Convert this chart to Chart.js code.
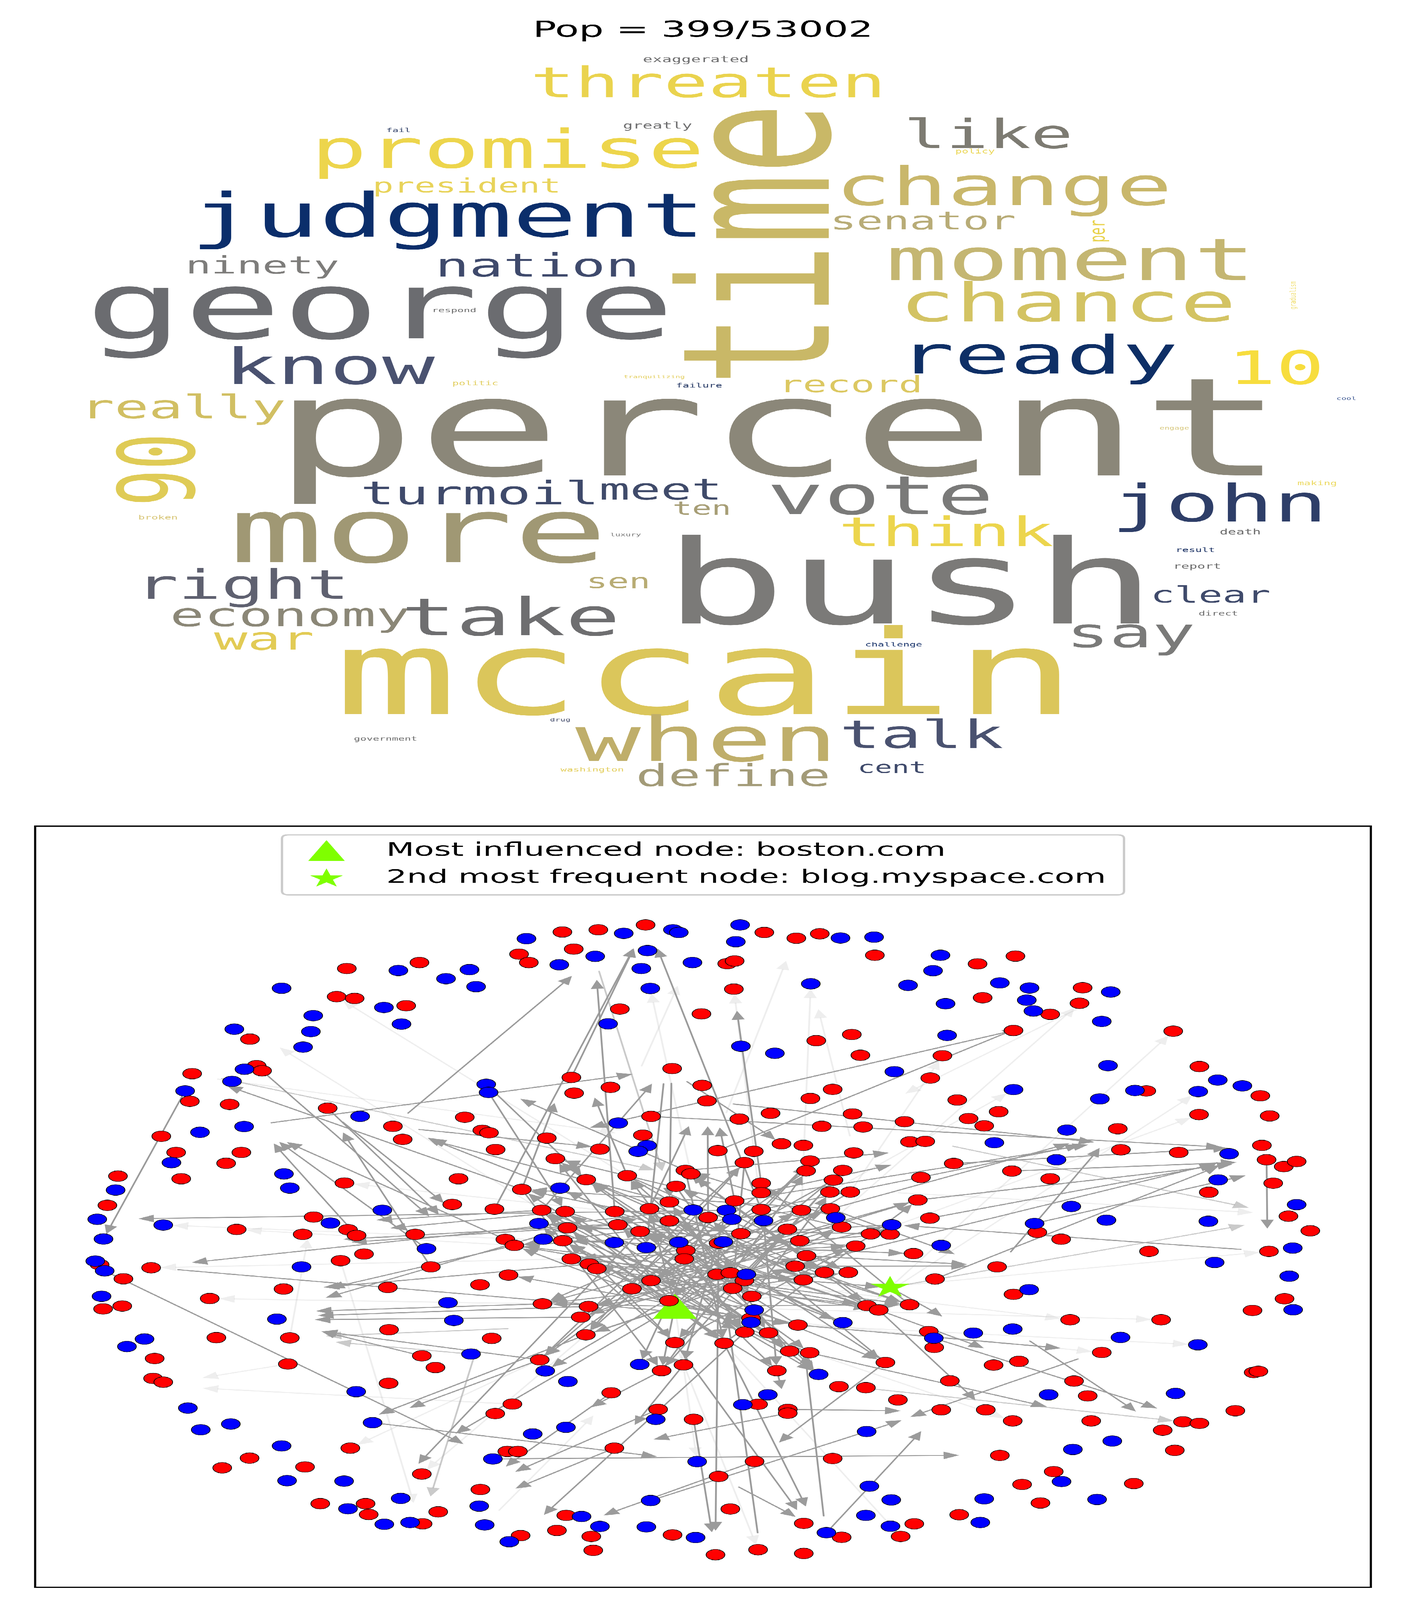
<!DOCTYPE html>
<html><head><meta charset="utf-8">
<script src="https://cdn.jsdelivr.net/npm/chart.js@4.4.0/dist/chart.umd.min.js"></script>
<style>
html,body{margin:0;padding:0;background:#fff;overflow:hidden;}
#wrap{position:relative;width:3600px;height:7200px;background:#fff;transform-origin:0 0;}
#c1{position:absolute;left:0;top:0;width:3600px;height:3650px;}
#c2{position:absolute;left:0;top:3650px;width:3600px;height:3550px;}
</style></head><body>
<div id="wrap"><canvas id="c1" width="3600" height="3650"></canvas><canvas id="c2" width="3600" height="3550"></canvas></div>
<script>
// fit the 3600x7200 figure into the visible window (the window may be shorter than 7200)
(function(){const vh=window.innerHeight||7200;const sy=Math.min(1,vh/7200);
 if(sy<1){const w=document.getElementById('wrap');w.style.transform='scale(1,'+sy+')';document.body.style.height=Math.floor(7200*sy)+'px';}})();

// ---------------- word cloud data ----------------
const titleText = "Pop = 399/53002";
const words = ["exaggerated","threaten","greatly","fail","promise","time","like","policy","president","change",
"judgment","senator","per","moment","ninety","nation","george","chance","respond","gradualism",
"know","ready","10","record","politic","tranquilizing","failure","cool","really","percent",
"90","turmoil","meet","vote","john","ten","more","think","broken","luxury",
"death","result","report","bush","right","sen","clear","direct","economy","take",
"say","war","challenge","mccain","drug","government","when","talk","cent","define",
"washington","engage","making"];
const wordX = [1646,1358,1595,989,796,2122,2314,2446,954,2138,
487,2125,2828,2268,475,1114,218,2302,1106,3318,
574,2300,3143,1994,1158,1597,1731,3422,205,696,
497,923,1534,1964,2845,1722,586,2147,354,1562,
3123,3010,3004,1697,347,1501,2946,3069,435,1027,
2730,548,2215,855,1408,906,1473,2150,2196,1628,
1435,2969,3322];
const wordY = [280,437,579,595,755,1734,666,690,866,923,
1065,1032,1091,1260,1231,1244,1523,1446,1405,1392,
1728,1681,1728,1765,1734,1702,1744,1800,1882,2139,
2276,2269,2248,2314,2346,2316,2529,2458,2338,2413,
2405,2484,2559,2806,2694,2647,2712,2770,2818,2859,
2912,2924,2909,3213,3246,3333,3425,3366,3478,3537,
3472,1933,2184];
const wordSize = [41,189,42,26,239,527,180,28,89,239,
274,113,56,262,109,145,418,239,27,21,
224,238,206,102,28,20,28,21,146,616,
270,145,131,241,230,83,403,183,28,22,
35,28,34,526,182,91,102,28,146,233,
183,142,27,527,22,27,279,174,73,138,
27,21,28];
const wordRot = [0,0,0,0,0,1,0,0,0,0, 0,0,1,0,0,0,0,0,0,1, 0,0,0,0,0,0,0,0,0,0, 1,0,0,0,0,0,0,0,0,0, 0,0,0,0,0,0,0,0,0,0, 0,0,0,0,0,0,0,0,0,0, 0,0,0];
const wordColor = ["#6f6f70","#EAD34E","#6f6f70","#2F3F66","#EDD54C","#C9B867","#7D7B72","#EBD757","#E8D35A","#C9B76B",
"#0B2E6B","#B8AC77","#E9D24C","#C4B672","#7E7D7B","#3F4A6C","#6B6C70","#D3C363","#6a6a6a","#F0DE6E",
"#4A5270","#0E2F66","#F7DD3E","#DCC862","#E2CF62","#E3CE5C","#273A66","#3A5590","#D1BF63","#8B8779",
"#DFCB56","#3F4A6B","#404B6A","#7A7A79","#2E3E68","#A79E76","#A09874","#ECD54D","#D7C575","#7a7a7a",
"#6a6a6a","#1E3466","#6a6a6a","#7B7A78","#5F6170","#B8AC74","#3F4A6B","#6a6a6a","#8B8777","#6E6E70",
"#7A7A79","#E2CB55","#17326A","#DBC65B","#4A5270","#6a6a6a","#BFAE6A","#4A5270","#3F4A6B","#A39B78",
"#E3CE5C","#D6C67A","#ECD960"];

// ---------------- network data ----------------
const blueNodes = [[1020,4370],[1202,4366],[1142,4407],[1219,4443],[721,4450],[983,4537],[802,4574],[1028,4612],[600,4635],[796,4646],[776,4716],[626,4816],[594,4871],[474,4914],[922,5029],[1245,4884],[1251,4921],[625,5075],[512,5101],
[1348,4226],[1597,4202],[1723,4186],[1738,4198],[1895,4164],[2152,4223],[2238,4219],[1884,4240],[1432,4344],[1524,4306],[1658,4280],[1642,4361],[1773,4334],[1665,4451],[2076,4430],[2325,4437],[1557,4611],[1897,4712],[1984,4744],[2290,4827],[1583,5059],[1657,5161],[1634,5187],
[2408,4301],[2389,4371],[2560,4426],[2636,4449],[2844,4467],[2421,4520],[2629,4504],[2646,4553],[2821,4600],[2425,4663],[2837,4800],[3118,4865],[3181,4891],[3068,4917],[2906,4912],[2816,4950],[2595,4908],[2732,5091],[2546,5148],[3147,5198],
[439,5238],[727,5289],[742,5353],[296,5362],[979,5453],[249,5494],[418,5520],[846,5511],[265,5583],[1092,5627],[244,5683],[268,5727],[772,5709],[260,5842],[1147,5871],[709,5945],[1162,5951],[370,6035],[325,6069],[1206,6103],
[1434,5353],[1775,5452],[1860,5453],[1874,5494],[2140,5487],[2283,5519],[1955,5500],[1380,5513],[1391,5584],[1573,5599],[1655,5622],[1738,5598],[1852,5596],[1911,5743],[1931,5904],[1923,5960],[2158,5961],[1396,6179],[1454,6227],[1638,6150],[2096,6195],
[2705,5225],[3119,5316],[2743,5436],[3320,5428],[2833,5498],[3094,5503],[2649,5513],[2410,5612],[3310,5624],[3110,5689],[3301,5751],[2635,5812],[3311,5903],[2593,5990],[2492,6008],[2391,6031],[2869,6028],[3067,6061],
[912,6273],[481,6347],[514,6445],[591,6419],[954,6413],[721,6518],[1262,6577],[735,6675],[881,6677],[1227,6790],[891,6802],[1026,6755],[984,6872],[1050,6864],[1241,6875],[1304,6951],
[1679,6398],[1449,6434],[1364,6464],[1902,6332],[1966,6287],[2219,6453],[1785,6589],[2226,6700],[2282,6762],[1666,6765],[1489,6837],[1536,6882],[1655,6884],[1781,6932],[2116,6910],[2217,6832],[2280,6881],
[2685,6287],[3010,6281],[2848,6496],[2747,6534],[2718,6679],[2520,6757],[2809,6760],[2510,6864]];
const redNodes = [[888,4361],[1074,4334],[862,4488],[908,4496],[1040,4529],[640,4680],[657,4800],[671,4823],[492,4836],[486,4961],[588,4975],[839,4992],[1190,5033],[1006,5074],[1235,5092],[1252,5103],[1031,5133],[413,5119],[451,5192],[618,5192],[1269,5179],
[1440,4196],[1532,4186],[1653,4164],[1957,4198],[2039,4224],[2099,4204],[2240,4301],[1469,4273],[1329,4296],[1354,4334],[1862,4339],[1881,4327],[1879,4454],[1587,4544],[1796,4566],[2181,4659],[2090,4687],[2203,4753],[1721,4813],[1463,4853],[1563,4898],[1470,4924],[1798,4889],[1810,4959],[2132,4907],[2075,4948],[1973,5015],[1893,5041],[2183,5018],[2316,5053],[2104,5074],[2210,5077],[1667,5029],[1646,5114],[1400,5127],[1536,5177],[2001,5153],[2057,5160],[2330,5144],[1838,5184],[1930,5187],[2186,5194],
[2503,4340],[2600,4305],[2772,4448],[2516,4493],[2764,4518],[2689,4568],[3004,4644],[2595,4641],[2413,4755],[2382,4856],[3071,4804],[3227,4936],[2935,4914],[2451,4955],[2557,5008],[2480,5039],[2520,5072],[3070,5021],[3251,5027],[2862,5085],[2369,5142],[3231,5160],[2870,5180],[3018,5192],
[579,5241],[302,5299],[464,5311],[882,5330],[1174,5311],[275,5431],[1158,5427],[1266,5448],[606,5540],[803,5484],[891,5541],[913,5567],[1063,5562],[775,5562],[1294,5585],[932,5651],[872,5681],[255,5699],[387,5713],[1103,5709],[1302,5746],[316,5763],[1229,5790],[726,5809],[993,5802],[537,5852],[313,5886],[264,5899],[996,5993],[1259,6032],[554,6029],[742,6030],[396,6123],[1080,6111],[1115,6164],[737,6148],[392,6213],[418,6230],[995,6235],
[1422,5220],[1906,5238],[2074,5231],[2064,5275],[2158,5273],[1755,5273],[1769,5289],[1606,5297],[1501,5315],[1336,5359],[1731,5345],[1949,5331],[1949,5374],[2134,5317],[2125,5371],[2177,5371],[2358,5305],[2350,5407],[1387,5453],[1447,5459],[1574,5459],[1663,5446],[1714,5416],[1881,5411],[1949,5450],[2052,5453],[2126,5446],[2155,5529],[2279,5561],[2229,5560],[1813,5486],[1714,5501],[1582,5519],[1453,5533],[2016,5539],[1897,5559],[1639,5549],[1317,5612],[1441,5591],[1756,5635],[1752,5673],[1840,5602],[2048,5591],[2191,5615],[2339,5649],[2065,5659],[2036,5706],[1463,5673],[1509,5696],[1528,5717],[1667,5771],[1618,5808],[1836,5743],[1870,5736],[1906,5771],[1876,5806],[2111,5734],[2172,5734],[2057,5768],[1925,5842],[1389,5876],[1507,5888],[1487,5936],[1713,5862],[1923,5941],[2220,5884],[2250,5904],[2329,5880],[2043,5972],[1907,6004],[1968,6007],[1500,6016],[1728,6051],[1854,6054],[2022,6090],[2073,6097],[1382,6129],[1694,6178],[1750,6152],[1989,6178],[2267,6141],[2148,6250],[2217,6255],
[2442,5242],[2591,5276],[2689,5311],[3243,5225],[3287,5256],[3320,5233],[3260,5331],[3095,5372],[3299,5480],[2381,5489],[3355,5546],[2656,5553],[2717,5584],[2942,5639],[3249,5639],[2553,5709],[2394,5764],[2595,5833],[3289,5853],[3207,5906],[2740,5948],[2973,5948],[2378,6001],[2392,6073],[2821,6096],[2544,6153],[2609,6136],[2432,6224],[2750,6225],[3210,6186],[3222,6181],
[1268,6372],[1312,6329],[897,6528],[639,6573],[569,6617],[781,6613],[1299,6543],[1326,6543],[1080,6645],[1230,6715],[820,6779],[936,6779],[944,6828],[1122,6816],[1082,6870],
[1565,6278],[1685,6353],[1776,6398],[1941,6330],[2017,6353],[2017,6370],[2299,6310],[1573,6528],[1932,6588],[2132,6575],[1840,6656],[1870,6803],[1450,6832],[1426,6900],[1514,6927],[1519,6990],[1333,6923],[1722,6920],[1832,7010],[1941,6987],[2058,7004],[2058,6868],[2155,6931],[2306,6927],[2341,6870],
[2785,6292],[2410,6355],[2524,6355],[2593,6405],[2794,6405],[3163,6359],[3029,6409],[3071,6416],[2977,6447],[3008,6538],[2560,6561],[2698,6634],[2617,6692],[2903,6688],[2664,6776],[2456,6829]];
const influencedNode = [1728,5887];
const frequentNode = [2279,5802];
const legendLabels = ["Most influenced node: boston.com","2nd most frequent node: blog.myspace.com"];

const darkEdges = [[1045,5014,1478,4374],[695,5058,1643,4833],[1336,5359,561,4878],[474,4914,265,5583],[877,5054,1150,5440],[1103,5709,870,5079],[1073,5088,1540,5170],[1574,5459,1075,5112],[1714,5416,1080,5125],[1251,4921,1447,5459],
[1245,4884,1501,5315],[1266,5448,1629,4247],[1463,4853,1629,4247],[1949,5450,1678,4247],[1574,5459,1527,4388],[1949,5331,1885,4528],[2595,4641,1488,5089],[1838,5184,2626,4616],[1878,4973,2826,5150],[1667,5029,3152,5170],
[1897,5559,2760,5140],[1881,5411,2810,5150],[1949,5450,2790,5150],[2442,5242,3170,5170],[2350,5407,3180,5240],[2591,5276,3190,5235],[2381,5489,3135,5241],[2649,5513,3212,5287],[2036,5706,3140,5230],[3243,5225,3245,5560],
[3177,5630,2290,5519],[2588,5641,2826,5150],[2394,5764,3140,5240],[2126,5446,2465,5665],[2036,5706,2500,5705],[2065,5659,2500,5700],[2279,5802,2430,5950],[2250,5904,2540,6090],[2043,5972,2740,6080],[2637,6044,2924,6381],
[2760,6125,2310,6400],[2073,6097,2703,6350],[2391,6031,2984,6360],[2250,5904,2510,6332],[1262,6577,2480,6560],[2116,6910,2370,6430],[954,6413,1706,6571],[1840,5602,1832,6925],[1776,6398,1825,6932],[1892,6704,2055,6855],
[1854,6054,2070,6815],[1728,6051,2050,6830],[2109,6834,2060,6080],[1940,6911,1860,5900],[2267,6141,1980,6522],[2017,6370,1650,6497],[1666,6765,2330,6390],[1932,6588,1525,6845],[2017,6353,2330,6360],[1989,6178,2005,6285],
[1694,6178,1495,6360],[1750,6152,1615,6445],[1685,6353,1300,6650],[1565,6278,1280,6630],[1573,6528,1300,6725],[268,5727,1205,6525],[1382,6129,1028,6360],[1860,5453,330,5492],[1775,5452,467,5694],[456,5722,1923,5941],
[1509,5696,805,5805],[1453,5533,812,5860],[1389,5876,785,5910],[1507,5888,790,5930],[1487,5936,782,5948],[1317,5612,820,5815],[1382,6129,800,5995],[1714,5501,855,5587],[1582,5519,875,5600],[1387,5453,940,5500],
[1447,5459,975,5538],[839,4992,1136,5494],[671,4823,1112,5501],[913,5567,690,5130],[1092,5627,700,5125],[1294,5585,715,5130],[1080,6111,800,5990],[1663,5446,1770,5050],[1813,5486,1812,5050],[1881,5411,1840,5055],
[1336,5359,1425,4945],[1606,5297,1517,4921],[1755,5273,1313,4935],[1387,5453,1680,4860],[1719,4880,1714,5416],[1699,4882,1655,5622],[1759,4872,2001,5153],[1755,5273,2300,5190],[1949,5374,2305,5240],
[1728,5887,1422,5220],[1728,5887,2074,5231],[1387,5453,2158,5961],[1447,5459,2250,5904],[1574,5459,2329,5880],[1663,5446,1907,6004],[1714,5416,1968,6007],[1501,5315,2111,5734],[1606,5297,2172,5734],[1755,5273,1854,6054],
[1906,5238,1500,6016],[2064,5275,1382,6129],[2134,5317,1694,6178],[2177,5371,1396,6179],[2350,5407,1389,5876],[2283,5519,1317,5612],[2279,5561,1463,5673],[2229,5560,1453,5533],[2191,5615,1380,5513],[2339,5649,1441,5591],
[2155,5529,1618,5808],[2048,5591,1487,5936],[2065,5659,1507,5888],[2036,5706,1639,5549],[1897,5559,1336,5359],[1813,5486,1638,6150],[1860,5453,1750,6152],[1955,5500,1989,6178],[2016,5539,1728,6051],[1639,5549,2073,6097],
[1582,5519,2022,6090],[1453,5533,2096,6195],[1380,5513,2267,6141],[1317,5612,2220,5884],[1463,5673,2057,5768],[1509,5696,2279,5802],[1667,5771,2126,5446],[1618,5808,2052,5453],[1836,5743,1501,5315],[1870,5736,1422,5220],
[1906,5771,1606,5297],[1876,5806,2158,5273],[2111,5734,1769,5289],[2172,5734,1731,5345],[1925,5842,2125,5371],[1713,5862,1387,5453],[1728,5887,1663,5446],[1728,5887,2016,5539],[1728,5887,1389,5876],[1728,5887,2043,5972],
[1728,5887,1500,6016],[1728,5887,1854,6054],[1923,5941,1302,5746],[1907,6004,1336,5359],[1968,6007,1447,5459],[2043,5972,1574,5459],[2022,6090,1714,5416],[1854,6054,2350,5407],[1728,6051,2283,5519],[1500,6016,2191,5615],
[1382,6129,1906,5238],[1694,6178,2064,5275],[1989,6178,1441,5591],[2096,6195,1582,5519],[2267,6141,1813,5486],[2220,5884,1667,5771],[2250,5904,1755,5273],[2329,5880,1949,5331],[2158,5961,1434,5353],[2057,5768,1317,5612],
[1453,5533,2279,5561],[1441,5591,2339,5649],[1463,5673,2191,5615],[1509,5696,2329,5880],[1528,5717,2250,5904],[1618,5808,2283,5519],[1667,5771,2350,5407],[1389,5876,2111,5734],[1507,5888,2172,5734],[1487,5936,2065,5659],
[1500,6016,2036,5706],[1728,6051,1380,5513],[1854,6054,1453,5533],[2022,6090,1441,5591],[2073,6097,1463,5673],[2043,5972,1509,5696],[1968,6007,1387,5453],[1907,6004,1606,5297],[2220,5884,1501,5315],[2250,5904,1582,5519],
[2158,5961,1639,5549],[2329,5880,1714,5501],[2279,5561,1755,5273],[2155,5529,1422,5220],[2126,5446,1336,5359],[2052,5453,1317,5612],[1949,5450,1389,5876],[1881,5411,1500,6016],[1813,5486,1382,6129],[1714,5501,2267,6141],
[1663,5446,2096,6195],[1574,5459,1989,6178],[1447,5459,1854,6054],[1387,5453,1728,6051],[1336,5359,1694,6178],[1422,5220,1925,5842],[1606,5297,2057,5768],[1755,5273,2220,5884],[1906,5238,1876,5806],[2074,5231,1713,5862],
[2158,5273,1836,5743],[1731,5345,1925,5842],[1949,5374,1618,5808],[2134,5317,1667,5771],[1728,5887,2329,5880],[1728,5887,1317,5612],[1728,5887,1907,6004],[1728,5887,1441,5591],[1728,5887,2155,5529],[1728,5887,1694,6178],
[1728,5887,1150,6480],[1639,5549,1060,6620],[1500,6016,950,6390],[1907,6004,1380,6850]];
const semiEdges = [[568,4858,1700,5280],[1534,4374,1700,5300],[2440,5164,3220,5450],[2279,5802,3210,5513],[1220,6080,1098,6770],[1300,5988,810,6023],[1206,6103,835,6045],[2217,6257,3029,6409]];
const faintEdges = [[558,4861,1600,5110],[1860,5012,2018,4303],[1643,4801,1741,4416],[2176,5117,2092,4521],[2784,4521,2300,4942],[2300,5374,3233,5466],[737,6148,495,6217],[1312,6329,495,6255],[872,5681,1063,6799],[742,6030,790,5560],
[1278,6809,1531,6360],[1387,5453,700,4700],[1714,5416,862,4488],[1949,5450,1879,4454],[2052,5453,2076,4430],[2140,5487,2764,4518],[2279,5802,3004,4644],[2220,5884,3068,4917],[1728,5887,3070,5021],[1728,5887,3249,5639],
[1728,5887,2973,5948],[1906,5771,2740,5948],[2043,5972,3067,6061],[1923,5941,2821,6096],[1728,5887,2593,6405],[1728,5887,1785,6589],[1500,6016,1080,6645],[1382,6129,897,6528],[1441,5591,418,5520],[1389,5876,537,5852],
[1463,5673,387,5713],[1317,5612,606,5540],[1574,5459,882,5330],[1769,5289,1665,4451],[2125,5371,2595,4908],[2177,5371,2413,4755],[1854,6054,2306,6927],[1728,6051,1941,6987]];

// ---------------- helpers ----------------
function makeTriangle(s){const c=document.createElement('canvas');c.width=s;c.height=s;const g=c.getContext('2d');
 g.fillStyle='#7FFF00';g.beginPath();g.moveTo(s/2,0);g.lineTo(s,s);g.lineTo(0,s);g.closePath();g.fill();return c;}
function makeStar(R){const s=Math.ceil(2*R);const c=document.createElement('canvas');c.width=s;c.height=s;const g=c.getContext('2d');
 g.fillStyle='#7FFF00';g.beginPath();for(let k=0;k<10;k++){const a=-Math.PI/2+k*Math.PI/5;const r=k%2?R*0.381966:R;const px=s/2+r*Math.cos(a),py=s/2+r*Math.sin(a);k?g.lineTo(px,py):g.moveTo(px,py);}g.closePath();g.fill();return c;}
const triImg = makeTriangle(112), starImg = makeStar(52);
const triLeg = makeTriangle(94), starLeg = makeStar(45);

Chart.defaults.font.family = "DejaVu Sans";
Chart.defaults.animation = false;

// ---------------- chart 1: word cloud ----------------
const wordPlugin = {
 id:'wordcloud',
 afterDatasetsDraw(chart){
  const {ctx, scales:{x,y}} = chart;
  const unit = Math.abs(x.getPixelForValue(1)-x.getPixelForValue(0));
  ctx.save();
  ctx.textAlign='left'; ctx.textBaseline='alphabetic';
  chart.data.datasets[0].data.forEach((d,i)=>{
   const px=x.getPixelForValue(d.x), py=y.getPixelForValue(d.y);
   ctx.save();
   ctx.translate(px,py);
   if(wordRot[i]) ctx.rotate(-Math.PI/2);
   ctx.font = (wordSize[i]*unit).toFixed(1)+'px "DejaVu Sans Mono"';
   ctx.fillStyle = wordColor[i];
   ctx.fillText(words[i],0,0);
   ctx.restore();
  });
  ctx.restore();
 }
};
new Chart(document.getElementById('c1'),{
 type:'scatter',
 data:{datasets:[{data:words.map((w,i)=>({x:wordX[i],y:wordY[i]})),pointRadius:0,pointHoverRadius:0}]},
 options:{responsive:false,devicePixelRatio:1,animation:false,events:[],
  layout:{padding:0},
  plugins:{legend:{display:false},tooltip:{enabled:false},
   title:{display:true,text:titleText,color:'#000',font:{family:'DejaVu Sans',size:100,weight:'normal'},padding:{top:80,bottom:0}}},
  scales:{x:{type:'linear',min:0,max:3600,display:false},y:{type:'linear',min:200,max:3650,reverse:true,display:false}}},
 plugins:[wordPlugin]
});

// ---------------- chart 2: network ----------------
function arrow(ctx,x1,y1,x2,y2,color,lw){
 const dx=x2-x1,dy=y2-y1,L=Math.hypot(dx,dy); if(L<30) return;
 const ux=dx/L,uy=dy/L, tx=x2-ux*24, ty=y2-uy*24, hl=40, hw=17;
 const bx=tx-ux*hl, by=ty-uy*hl;
 ctx.strokeStyle=color; ctx.fillStyle=color; ctx.lineWidth=lw; ctx.lineCap='round';
 ctx.beginPath(); ctx.moveTo(x1,y1); ctx.lineTo(bx,by); ctx.stroke();
 ctx.beginPath(); ctx.moveTo(tx,ty); ctx.lineTo(bx-uy*hw,by+ux*hw); ctx.lineTo(bx+uy*hw,by-ux*hw); ctx.closePath(); ctx.fill();
}
const edgePlugin = {
 id:'edges',
 beforeDatasetsDraw(chart){
  const {ctx, scales:{x,y}} = chart;
  ctx.save();
  const groups=[[faintEdges,'rgba(150,150,150,0.16)'],[semiEdges,'rgba(150,150,150,0.5)'],[darkEdges,'rgb(155,155,155)']];
  groups.forEach(([list,col])=>list.forEach(e=>arrow(ctx,x.getPixelForValue(e[0]),y.getPixelForValue(e[1]),x.getPixelForValue(e[2]),y.getPixelForValue(e[3]),col,4.6)));
  ctx.restore();
 }
};
const framePlugin = {
 id:'frameLegend',
 afterDraw(chart){
  const {ctx, chartArea:a, scales:{x,y}} = chart;
  ctx.save();
  ctx.strokeStyle='#000'; ctx.lineWidth=5.5;
  ctx.strokeRect(a.left,a.top,a.right-a.left,a.bottom-a.top);
  const L=x.getPixelForValue(722), R=x.getPixelForValue(2878), T=y.getPixelForValue(3757), B=y.getPixelForValue(4028), r=17;
  ctx.beginPath();
  ctx.moveTo(L+r,T); ctx.lineTo(R-r,T); ctx.quadraticCurveTo(R,T,R,T+r); ctx.lineTo(R,B-r); ctx.quadraticCurveTo(R,B,R-r,B);
  ctx.lineTo(L+r,B); ctx.quadraticCurveTo(L,B,L,B-r); ctx.lineTo(L,T+r); ctx.quadraticCurveTo(L,T,L+r,T); ctx.closePath();
  ctx.fillStyle='rgba(255,255,255,0.8)'; ctx.fill();
  ctx.strokeStyle='#cccccc'; ctx.lineWidth=6; ctx.stroke();
  const mx=x.getPixelForValue(836), tx=x.getPixelForValue(989);
  const rows=[y.getPixelForValue(3828),y.getPixelForValue(3950)];
  ctx.drawImage(triLeg,mx-triLeg.width/2,rows[0]-triLeg.height/2);
  ctx.drawImage(starLeg,mx-starLeg.width/2,rows[1]-starLeg.height/2+4);
  ctx.fillStyle='#000'; ctx.font='83px "DejaVu Sans"'; ctx.textAlign='left'; ctx.textBaseline='middle';
  ctx.fillText(legendLabels[0],tx,rows[0]+2);
  ctx.fillText(legendLabels[1],tx,rows[1]+2);
  ctx.restore();
 }
};
new Chart(document.getElementById('c2'),{
 type:'scatter',
 data:{datasets:[
  {data:blueNodes.map(p=>({x:p[0],y:p[1]})),backgroundColor:'#0000ff',borderColor:'#000',borderWidth:2,pointRadius:24,pointHoverRadius:24},
  {data:redNodes.map(p=>({x:p[0],y:p[1]})),backgroundColor:'#ff0000',borderColor:'#000',borderWidth:2,pointRadius:24,pointHoverRadius:24},
  {data:[{x:influencedNode[0],y:influencedNode[1]}],pointStyle:triImg,pointRadius:56},
  {data:[{x:frequentNode[0],y:frequentNode[1]}],pointStyle:starImg,pointRadius:52}
 ]},
 options:{responsive:false,devicePixelRatio:1,animation:false,events:[],
  layout:{padding:{left:90,right:90,top:68,bottom:43}},
  plugins:{legend:{display:false},tooltip:{enabled:false},title:{display:false}},
  scales:{x:{type:'linear',min:90,max:3510,display:false},y:{type:'linear',min:3718,max:7157,reverse:true,display:false}}},
 plugins:[edgePlugin,framePlugin]
});
</script>
</body></html>
